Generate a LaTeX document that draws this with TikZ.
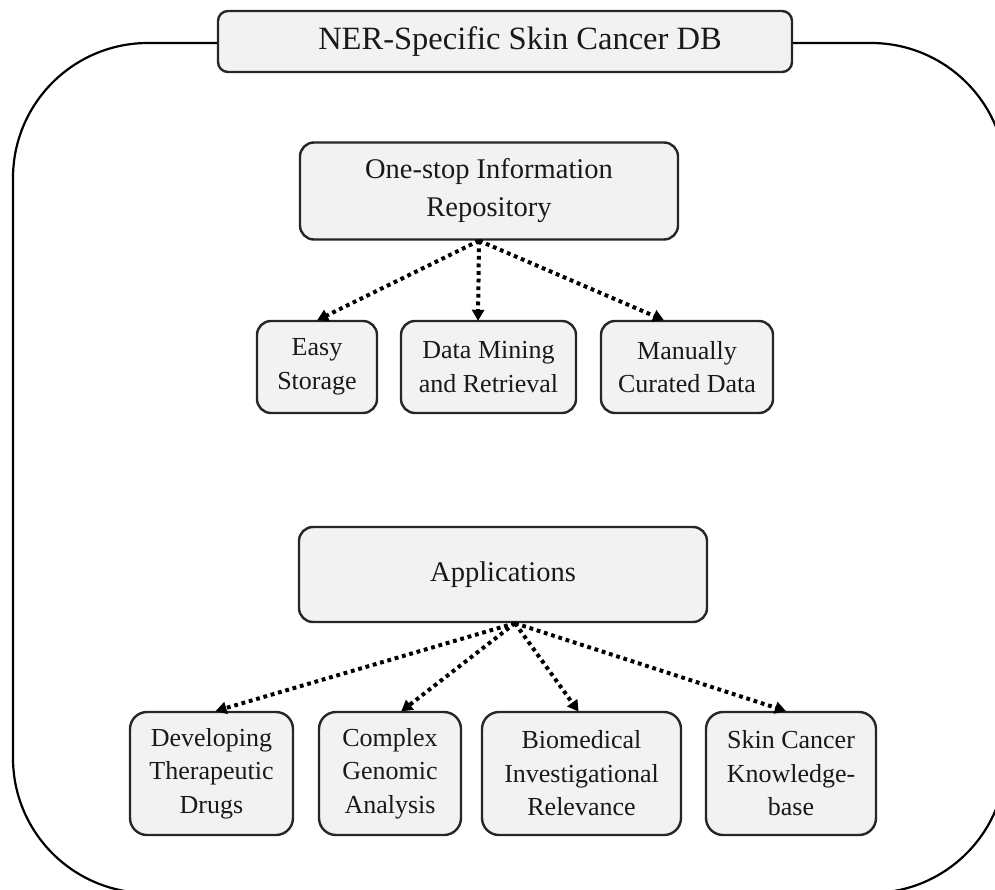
\documentclass[tikz,border=0pt]{standalone}
\usepackage{fontspec}
\setmainfont{Liberation Serif}
\usetikzlibrary{arrows.meta,calc}
\definecolor{boxfill}{HTML}{F2F2F2}
\tikzset{
  box/.style={draw=black!85, line width=2.4pt, fill=boxfill, rounded corners=14pt,
    align=center, inner sep=0pt, text=black!90},
  bigtext/.style={font=\fontsize{28.5}{38}\selectfont},
  smalltext/.style={font=\fontsize{26}{33.5}\selectfont},
  link/.style={line width=4pt, dash pattern=on 3.8pt off 3.8pt,
    -{Triangle[length=11pt,width=12pt]}, shorten >=-1pt},
}
\begin{document}
\begin{tikzpicture}[x=1pt,y=-1pt]
  \useasboundingbox (0,0) rectangle (995,890);
  % outer frame
  \begin{scope}
    \clip (0,0) rectangle (995,890);
    \draw[line width=2.2pt, rounded corners=135pt] (13,43) rectangle (1006,893);
  \end{scope}
  % title
  \node[box, rounded corners=10pt, minimum width=574pt, minimum height=61pt,
        font=\fontsize{32.5}{38}\selectfont] (title) at (505,41.5) {\hspace*{30pt}NER-Specific Skin Cancer DB};
  % repository branch
  \node[box, bigtext, minimum width=378pt, minimum height=97pt] (repo) at (489,191)
    {One-stop Information\\Repository};
  \node[box, smalltext, minimum width=120pt, minimum height=92pt] (easy) at (317,367) {Easy\\Storage};
  \node[box, smalltext, minimum width=175pt, minimum height=92pt] (mine) at (488.5,367) {Data Mining\\and Retrieval};
  \node[box, smalltext, minimum width=172pt, minimum height=92pt] (cur) at (687,367) {Manually\\Curated Data};
  % applications branch
  \node[box, bigtext, minimum width=408pt, minimum height=95pt] (apps) at (503,574.5) {Applications};
  \node[box, smalltext, minimum width=163pt, minimum height=123pt, rounded corners=17pt] (drug) at (211.5,773.5) {Developing\\Therapeutic\\Drugs};
  \node[box, smalltext, minimum width=142pt, minimum height=123pt, rounded corners=17pt] (geno) at (390,773.5) {Complex\\Genomic\\Analysis};
  \node[box, smalltext, minimum width=199pt, minimum height=123pt, rounded corners=17pt] (bio) at (581.5,773.5) {Biomedical\\Investigational\\Relevance};
  \node[box, smalltext, minimum width=170pt, minimum height=123pt, rounded corners=17pt] (kb) at (791,773.5) {Skin Cancer\\Knowledge-\\base};
  % connector origins
  \coordinate (rsrc) at ($(repo.south)+(-10,0)$);
  \coordinate (asrc) at ($(apps.south)+(12,0)$);
  \draw[link] (rsrc) -- ($(easy.north)+(1,0)$);
  \draw[link] (rsrc) -- ($(mine.north)+(-10.5,0)$);
  \draw[link] (rsrc) -- ($(cur.north)+(-24,0)$);
  \draw[link] (asrc) -- ($(drug.north)+(5,0)$);
  \draw[link] (asrc) -- ($(geno.north)+(12,0)$);
  \draw[link] (asrc) -- ($(bio.north)+(-3.5,0)$);
  \draw[link] (asrc) -- ($(kb.north)+(-6,0)$);
\end{tikzpicture}
\end{document}
